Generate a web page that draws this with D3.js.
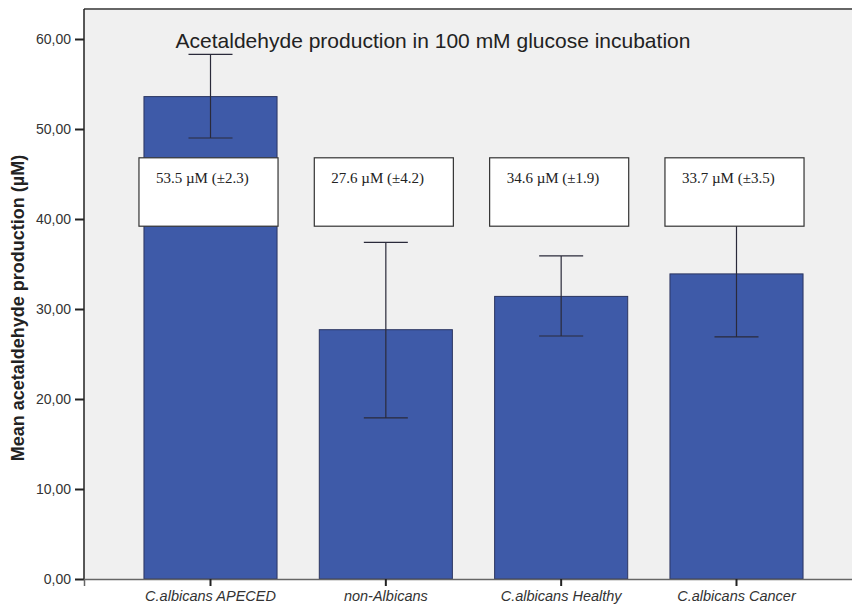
<!DOCTYPE html>
<html>
<head>
<meta charset="utf-8">
<script src="https://cdn.jsdelivr.net/npm/d3@7"></script>
<style>
  body { margin: 0; background: #fff; }
  svg { display: block; }
</style>
</head>
<body>
<div id="chart"></div>
<script>
// dades llegides del gràfic
const groups = ["C.albicans APECED", "non-Albicans", "C.albicans Healthy", "C.albicans Cancer"];
const means = [53.6, 27.7, 31.4, 33.9];
const errLow = [49.0, 17.9, 27.0, 26.9];
const errHigh = [58.3, 37.4, 35.9, 40.9];
const boxLabels = ["53.5 µM (±2.3)", "27.6 µM (±4.2)", "34.6 µM (±1.9)", "33.7 µM (±3.5)"];
const boxRange = [39.2, 46.8];
const yTicks = [0, 10, 20, 30, 40, 50, 60];

const W = 852, H = 608;
const plot = { left: 84, right: 863, top: 9, bottom: 579 };

const svg = d3.select("#chart").append("svg")
    .attr("width", W)
    .attr("height", H);

const x = d3.scaleBand()
    .domain(groups)
    .range([plot.left, plot.right])
    .paddingInner(0.241)
    .paddingOuter(0.342);

const y = d3.scaleLinear()
    .domain([0, 60])
    .range([plot.bottom, 39]);

// fons de l'àrea de dibuix
svg.append("rect")
    .attr("x", plot.left)
    .attr("y", plot.top)
    .attr("width", plot.right - plot.left)
    .attr("height", plot.bottom - plot.top)
    .attr("fill", "#f0f0f0");

svg.append("line")
    .attr("x1", plot.left).attr("x2", plot.right)
    .attr("y1", plot.top).attr("y2", plot.top)
    .attr("stroke", "#666").attr("stroke-width", 2);

// barres
const data = groups.map((g, i) => ({ g, mean: means[i], lo: errLow[i], hi: errHigh[i], label: boxLabels[i] }));

svg.selectAll("rect.bar")
    .data(data)
    .enter()
    .append("rect")
    .attr("class", "bar")
    .attr("x", d => x(d.g))
    .attr("y", d => y(d.mean))
    .attr("width", x.bandwidth())
    .attr("height", d => y(0) - y(d.mean))
    .attr("fill", "#3e5aa8")
    .attr("stroke", "#2b3560")
    .attr("stroke-width", 1);

// barres d'error
const cx = d => x(d.g) + x.bandwidth() / 2;
const errG = svg.append("g").attr("stroke", "#2a2a3a").attr("stroke-width", 1.2);
errG.selectAll("line.v").data(data).enter().append("line")
    .attr("x1", cx).attr("x2", cx)
    .attr("y1", d => y(d.lo)).attr("y2", d => y(d.hi));
errG.selectAll("line.hi").data(data).enter().append("line")
    .attr("x1", d => cx(d) - 22).attr("x2", d => cx(d) + 22)
    .attr("y1", d => y(d.hi)).attr("y2", d => y(d.hi));
errG.selectAll("line.lo").data(data).enter().append("line")
    .attr("x1", d => cx(d) - 22).attr("x2", d => cx(d) + 22)
    .attr("y1", d => y(d.lo)).attr("y2", d => y(d.lo));

// caixes amb el valor
const boxW = x.bandwidth() + 6;
svg.selectAll("rect.box").data(data).enter().append("rect")
    .attr("x", d => cx(d) - boxW / 2 - 2)
    .attr("y", y(boxRange[1]))
    .attr("width", boxW)
    .attr("height", y(boxRange[0]) - y(boxRange[1]))
    .attr("fill", "#fff")
    .attr("stroke", "#333")
    .attr("stroke-width", 1.2);

svg.selectAll("text.box").data(data).enter().append("text")
    .attr("x", d => cx(d) - boxW / 2 + 15)
    .attr("y", y(boxRange[1]) + 25)
    .attr("font-family", "Liberation Serif, Times New Roman, serif")
    .attr("font-size", "15px")
    .attr("fill", "#222")
    .text(d => d.label);

// eixos
const yAxis = svg.append("g")
    .attr("transform", `translate(${plot.left},0)`)
    .call(d3.axisLeft(y).tickValues(yTicks).tickSize(9).tickFormat(d => d3.format(".2f")(d).replace(".", ",")));
yAxis.select(".domain").attr("stroke", "#222").attr("stroke-width", 1.5)
    .attr("d", `M0,${plot.top}V${plot.bottom}`);
yAxis.selectAll(".tick line").attr("stroke", "#222").attr("stroke-width", 2);
yAxis.selectAll(".tick text")
    .attr("font-family", "Liberation Sans, Arial, sans-serif")
    .attr("font-size", "14px")
    .attr("fill", "#333")
    .attr("x", -13);

const xAxis = svg.append("g")
    .attr("transform", `translate(0,${plot.bottom})`)
    .call(d3.axisBottom(x).tickSize(7));
xAxis.select(".domain").attr("stroke", "#666").attr("stroke-width", 1.5);
xAxis.selectAll(".tick line").attr("stroke", "#222").attr("stroke-width", 2);
xAxis.selectAll(".tick text")
    .attr("font-family", "Liberation Sans, Arial, sans-serif")
    .attr("font-size", "14.5px")
    .attr("font-style", "italic")
    .attr("fill", "#333")
    .attr("y", 12);

// títol
svg.append("text")
    .attr("x", 433)
    .attr("y", 48)
    .attr("text-anchor", "middle")
    .attr("font-family", "Liberation Sans, Arial, sans-serif")
    .attr("font-size", "21px")
    .attr("fill", "#222")
    .text("Acetaldehyde production in 100 mM glucose incubation");

// etiqueta de l'eix Y
svg.append("text")
    .attr("transform", "translate(24,308) rotate(-90)")
    .attr("text-anchor", "middle")
    .attr("font-family", "Liberation Sans, Arial, sans-serif")
    .attr("font-size", "18px")
    .attr("font-weight", "bold")
    .attr("fill", "#222")
    .text("Mean acetaldehyde production (µM)");
</script>
</body>
</html>
